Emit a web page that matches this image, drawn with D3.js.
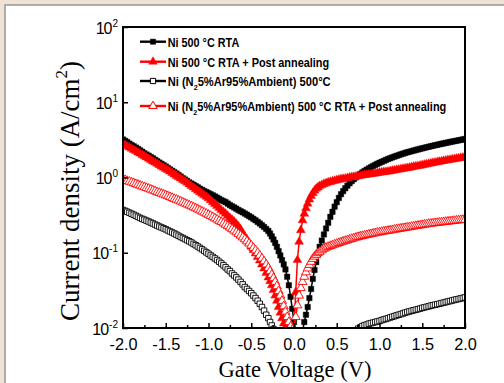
<!DOCTYPE html>
<html><head><meta charset="utf-8">
<script src="https://cdn.jsdelivr.net/npm/d3@7"></script>
<style>html,body{margin:0;padding:0;background:#efe3d5;overflow:hidden}</style>
</head><body>
<svg id="c" width="504" height="383"></svg>
<script>
// Gate voltage (V): outer sweeps every 25 mV, 20 mV around 0 V
const voltages = [
 -2.000,-1.975,-1.950,-1.925,-1.900,-1.875,-1.850,-1.825,-1.800,-1.775,-1.750,-1.725,-1.700,-1.675,-1.650,-1.625,-1.600,-1.575,-1.550,-1.525,
 -1.500,-1.475,-1.450,-1.425,-1.400,-1.375,-1.350,-1.325,-1.300,-1.275,-1.250,-1.225,-1.200,-1.175,-1.150,-1.125,-1.100,-1.075,-1.050,-1.025,
 -1.000,-0.975,-0.950,-0.925,-0.900,-0.875,-0.850,-0.825,-0.800,-0.775,-0.750,-0.725,-0.700,-0.675,-0.650,-0.625,-0.600,-0.575,-0.550,-0.525,
 -0.500,-0.475,-0.450,-0.425,-0.400,-0.375,-0.350,-0.325,-0.300,
 -0.28,-0.26,-0.24,-0.22,-0.20,-0.18,-0.16,-0.14,-0.12,-0.10,-0.08,-0.06,-0.04,-0.02,0.00,
 0.02,0.04,0.06,0.08,0.10,0.12,0.14,0.16,0.18,0.20,0.22,0.24,0.26,0.28,
 0.300,0.325,0.350,0.375,0.400,0.425,0.450,0.475,0.500,0.525,0.550,0.575,0.600,0.625,0.650,0.675,0.700,0.725,0.750,0.775,
 0.800,0.825,0.850,0.875,0.900,0.925,0.950,0.975,1.000,1.025,1.050,1.075,1.100,1.125,1.150,1.175,1.200,1.225,1.250,1.275,
 1.300,1.325,1.350,1.375,1.400,1.425,1.450,1.475,1.500,1.525,1.550,1.575,1.600,1.625,1.650,1.675,1.700,1.725,1.750,1.775,
 1.800,1.825,1.850,1.875,1.900,1.925,1.950,1.975,2.000];

// Current density (A/cm^2); null = below the visible range (< 1e-2)
const jNiRTA = [
 3.20,3.07,2.95,2.82,2.70,2.60,2.50,2.40,2.30,2.20,2.10,2.02,1.95,1.87,1.80,1.72,1.65,1.58,1.52,1.46,
 1.40,1.34,1.28,1.23,1.18,1.13,1.08,1.03,0.98,0.94,0.90,0.86,0.83,0.80,0.77,0.74,0.71,0.685,0.66,0.64,
 0.62,0.60,0.58,0.56,0.54,0.52,0.50,0.485,0.47,0.45,0.43,0.415,0.40,0.385,0.37,0.357,0.345,0.332,0.32,0.307,
 0.295,0.282,0.27,0.257,0.245,0.232,0.22,0.207,0.195,
 0.18,0.165,0.15,0.135,0.12,0.105,0.092,0.08,0.07,0.06,0.048,0.037,0.026,0.018,0.012,
 0.009,null,null,null,0.009,0.012,0.015,0.019,0.025,0.033,0.045,0.059,0.075,0.095,
 0.12,0.145,0.175,0.21,0.25,0.30,0.35,0.41,0.47,0.535,0.60,0.66,0.72,0.78,0.84,0.895,0.95,1.005,1.06,1.115,
 1.17,1.22,1.27,1.32,1.37,1.42,1.47,1.52,1.57,1.615,1.66,1.71,1.76,1.805,1.85,1.895,1.94,1.985,2.03,2.075,
 2.12,2.16,2.20,2.24,2.28,2.32,2.36,2.40,2.44,2.48,2.52,2.56,2.60,2.64,2.68,2.72,2.76,2.80,2.84,2.88,
 2.92,2.96,3.00,3.04,3.08,3.12,3.16,3.20,3.25];

const jNiRTAPost = [
 2.80,2.70,2.60,2.51,2.42,2.33,2.25,2.16,2.08,2.00,1.92,1.85,1.78,1.71,1.64,1.58,1.52,1.46,1.40,1.35,
 1.30,1.25,1.20,1.15,1.10,1.05,1.01,0.97,0.93,0.89,0.85,0.81,0.77,0.735,0.70,0.67,0.64,0.61,0.58,0.555,
 0.53,0.50,0.47,0.445,0.42,0.395,0.37,0.35,0.33,0.31,0.29,0.275,0.26,0.242,0.225,0.205,0.18,0.165,0.15,0.135,
 0.12,0.109,0.098,0.088,0.079,0.07,0.062,0.054,0.047,
 0.042,0.037,0.032,0.027,0.023,0.019,0.016,0.0135,0.0115,0.0102,0.0095,0.0092,null,null,0.0095,
 0.03,0.08,0.14,0.20,0.27,0.33,0.39,0.45,0.51,0.57,0.62,0.67,0.71,0.74,
 0.77,0.795,0.82,0.84,0.86,0.875,0.89,0.905,0.92,0.935,0.95,0.96,0.97,0.985,1.00,1.01,1.02,1.03,1.04,1.055,
 1.07,1.08,1.09,1.10,1.11,1.12,1.13,1.145,1.16,1.17,1.18,1.19,1.20,1.215,1.23,1.245,1.26,1.275,1.29,1.305,
 1.32,1.335,1.35,1.37,1.39,1.405,1.42,1.44,1.46,1.48,1.50,1.52,1.54,1.56,1.58,1.60,1.62,1.64,1.66,1.68,
 1.70,1.72,1.74,1.76,1.78,1.80,1.82,1.84,1.86];

const jNiN2Ar = [
 0.37,0.36,0.35,0.34,0.33,0.32,0.31,0.30,0.29,0.282,0.275,0.267,0.26,0.252,0.245,0.237,0.23,0.223,0.217,0.211,
 0.205,0.198,0.192,0.186,0.18,0.174,0.168,0.162,0.157,0.152,0.147,0.142,0.137,0.131,0.126,0.121,0.116,0.111,0.106,0.101,
 0.097,0.092,0.088,0.084,0.08,0.076,0.072,0.068,0.064,0.06,0.057,0.053,0.05,0.047,0.044,0.041,0.038,0.035,0.033,0.031,
 0.029,0.027,0.025,0.023,0.021,0.019,0.017,0.015,0.0135,
 0.012,0.0108,0.0097,null,null,null,null,null,null,null,null,null,null,null,null,
 null,null,null,null,null,null,null,null,null,null,null,null,null,null,
 null,null,null,null,null,null,null,null,null,null,null,null,null,null,null,null,null,null,0.0098,0.0102,
 0.0106,0.0109,0.0111,0.0114,0.0116,0.0118,0.012,0.0122,0.0124,0.0127,0.013,0.0132,0.0135,0.0138,0.0141,0.0144,0.0147,0.015,0.0153,0.0156,
 0.016,0.0163,0.0166,0.0169,0.0172,0.0175,0.0178,0.0181,0.0185,0.0188,0.0191,0.0194,0.0198,0.0201,0.0204,0.0207,0.021,0.0214,0.0217,0.0221,
 0.0225,0.0228,0.0232,0.0236,0.024,0.0243,0.0247,0.0251,0.0255];

const jNiN2ArPost = [
 0.95,0.925,0.90,0.88,0.86,0.84,0.82,0.80,0.78,0.762,0.745,0.727,0.71,0.692,0.675,0.657,0.64,0.625,0.61,0.595,
 0.58,0.565,0.55,0.535,0.52,0.507,0.495,0.48,0.465,0.452,0.44,0.427,0.415,0.402,0.39,0.377,0.365,0.353,0.342,0.331,
 0.32,0.309,0.298,0.287,0.277,0.266,0.256,0.246,0.236,0.226,0.216,0.206,0.197,0.187,0.178,0.169,0.16,0.151,0.142,0.133,
 0.125,0.116,0.108,0.10,0.092,0.084,0.077,0.07,0.063,
 0.057,0.051,0.046,0.041,0.036,0.031,0.027,0.023,0.0195,0.0165,0.014,0.012,0.0105,0.0095,0.0092,
 0.014,0.02,0.027,0.034,0.041,0.048,0.055,0.062,0.069,0.076,0.083,0.089,0.094,0.099,
 0.103,0.108,0.113,0.117,0.12,0.123,0.126,0.129,0.132,0.135,0.138,0.141,0.144,0.147,0.15,0.153,0.156,0.159,0.162,0.165,
 0.167,0.17,0.172,0.175,0.177,0.18,0.182,0.185,0.187,0.19,0.192,0.194,0.196,0.198,0.2,0.203,0.205,0.208,0.21,0.212,
 0.214,0.217,0.219,0.222,0.224,0.227,0.229,0.232,0.234,0.237,0.239,0.242,0.244,0.246,0.248,0.25,0.252,0.254,0.256,0.258,
 0.26,0.262,0.264,0.266,0.268,0.27,0.272,0.274,0.275];

const xMajorTicks = [-2.0,-1.5,-1.0,-0.5,0.0,0.5,1.0,1.5,2.0];
const xMinorTicks = [-1.75,-1.25,-0.75,-0.25,0.25,0.75,1.25,1.75];
const yTicks = [0.01,0.1,1,10,100];
const yTickExps = ["-2","-1","0","1","2"];

const seriesNames = [
  ["Ni 500 °C RTA"],
  ["Ni 500 °C RTA + Post annealing"],
  ["Ni (N","2","5%Ar95%Ambient) 500°C"],
  ["Ni (N","2","5%Ar95%Ambient) 500 °C RTA + Post annealing"]
];
const seriesData = [jNiRTA, jNiRTAPost, jNiN2Ar, jNiN2ArPost];
const seriesColor = ["#000000","#ff0000","#000000","#ff0000"];
const seriesShape = ["square","triangle","square","triangle"];
const seriesOpen = [false,false,true,true];

const SANS = "'Liberation Sans', Arial, sans-serif";
const SERIF = "'Liberation Serif', 'Times New Roman', serif";

const svg = d3.select("#c");
svg.append("rect").attr("x",5).attr("y",5).attr("width",520).attr("height",400)
  .attr("fill","#fff").attr("stroke","#9c9c9c").attr("stroke-width",1.6);

const L=123,R=465,T=27,B=328;
const x = d3.scaleLinear().domain([-2,2]).range([L,R]);
const y = d3.scaleLog().domain([0.01,100]).range([B,T]);

svg.append("clipPath").attr("id","pc").append("rect")
  .attr("x",L).attr("y",T).attr("width",R-L).attr("height",B-T);

function markerPath(shape, s){
  const k = s || 1;
  return shape==="square" ? d3.symbol(d3.symbolSquare, 30*k)() : d3.symbol(d3.symbolTriangle, 34*k)();
}

const plot = svg.append("g").attr("clip-path","url(#pc)");
seriesData.forEach((arr,i)=>{
  const pts = voltages.map((v,k)=>({v, j:arr[k]}));
  const line = d3.line().defined(d=>d.j!=null).x(d=>x(d.v)).y(d=>y(d.j));
  const g = plot.append("g");
  g.append("path").attr("d",line(pts)).attr("fill","none")
    .attr("stroke",seriesColor[i]).attr("stroke-width",1.5);
  g.selectAll("path.m").data(pts.filter(d=>d.j!=null)).enter().append("path")
    .attr("class","m")
    .attr("d",markerPath(seriesShape[i]))
    .attr("transform",d=>`translate(${x(d.v)},${y(d.j)})`)
    .attr("fill",seriesOpen[i]?"#fff":seriesColor[i])
    .attr("stroke",seriesColor[i]).attr("stroke-width",seriesOpen[i]?0.9:0.4);
});

// axes
const xa = svg.append("g").attr("transform",`translate(0,${B})`)
  .call(d3.axisBottom(x).tickValues(xMajorTicks).tickSize(-5).tickPadding(10).tickFormat(d=>d.toFixed(1)));
xa.select(".domain").remove();
xa.selectAll("line").attr("stroke-width",1.5);
xa.selectAll("text").attr("font-family",SANS).attr("font-size",16.3).attr("fill","#000");
const xm = svg.append("g").attr("transform",`translate(0,${B})`)
  .call(d3.axisBottom(x).tickValues(xMinorTicks).tickSize(-3).tickFormat(""));
xm.select(".domain").remove();
xm.selectAll("line").attr("stroke-width",1.5);

const ya = svg.append("g").attr("transform",`translate(${L},0)`)
  .call(d3.axisLeft(y).tickValues(yTicks).tickSize(-5).tickFormat(""));
ya.select(".domain").remove();
ya.selectAll("line").attr("stroke-width",1.5);
yTicks.forEach((t,i)=>{
  const tx = svg.append("text").attr("x",118).attr("y",y(t)+6.5)
    .attr("text-anchor","end").attr("font-family",SANS).attr("fill","#000");
  tx.append("tspan").attr("font-size",16).attr("letter-spacing",-1).text("10");
  tx.append("tspan").attr("font-size",10).attr("dy",-7).attr("dx",1).text(yTickExps[i]);
});

svg.append("rect").attr("x",L).attr("y",T).attr("width",R-L).attr("height",B-T)
  .attr("fill","none").attr("stroke","#000").attr("stroke-width",2);

// legend
const legY = [41.7,61.7,81,106];
const legW = [71.6,161.6,163,279];
seriesNames.forEach((parts,i)=>{
  const g = svg.append("g");
  g.append("line").attr("x1",140).attr("x2",166).attr("y1",legY[i]).attr("y2",legY[i])
    .attr("stroke",seriesColor[i]).attr("stroke-width",2.4);
  g.append("path").attr("d",markerPath(seriesShape[i],0.9))
    .attr("transform",`translate(153,${legY[i]})`)
    .attr("fill",seriesOpen[i]?"#fff":seriesColor[i])
    .attr("stroke",seriesColor[i]).attr("stroke-width",seriesOpen[i]?1:0.5);
  const tg = svg.append("g");
  const t = tg.append("text").attr("font-family",SANS).attr("font-size",12.5)
    .attr("font-weight","bold").attr("fill","#000");
  if(parts.length===1){ t.append("tspan").text(parts[0]); }
  else {
    t.append("tspan").text(parts[0]);
    t.append("tspan").attr("font-size",8).attr("dy",4).text(parts[1]);
    t.append("tspan").attr("dy",-4).text(parts[2]);
  }
  const w = t.node().getBBox().width;
  tg.attr("transform",`translate(167.7,${legY[i]+4.8})scale(${legW[i]/w},1)`);
});

// x title
{
  const g = svg.append("g");
  const t = g.append("text").attr("font-family",SERIF).attr("font-size",24).attr("fill","#000")
    .attr("text-anchor","middle").text("Gate Voltage (V)");
  const w = t.node().getBBox().width;
  g.attr("transform",`translate(295,376.5)scale(${153/w},1)`);
}
// y title
{
  const g = svg.append("g");
  const t = g.append("text").attr("font-family",SERIF).attr("font-size",27).attr("fill","#000")
    .attr("text-anchor","middle");
  t.append("tspan").text("Current density (A/cm");
  t.append("tspan").attr("font-size",17).attr("dy",-12).text("2");
  t.append("tspan").attr("dy",12).text(")");
  const w = t.node().getBBox().width;
  g.attr("transform",`translate(79,191)rotate(-90)scale(${260/w},1)`);
}
</script>
</body></html>
